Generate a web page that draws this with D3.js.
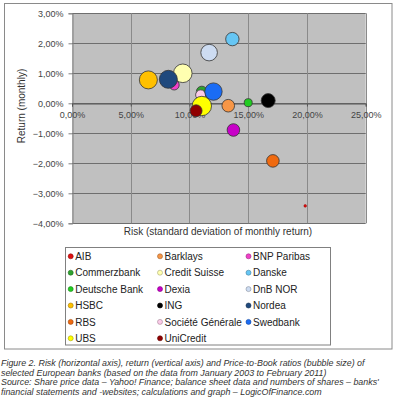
<!DOCTYPE html>
<html><head><meta charset="utf-8">
<script src="https://cdn.jsdelivr.net/npm/d3@7"></script>
<style>
html,body{margin:0;padding:0;background:#fff;}
svg{display:block;font-family:"Liberation Sans",Arial,sans-serif;}
</style></head>
<body>
<svg id="c" width="398" height="400"></svg>
<script>
// Banks (legend order)
const banks = ["AIB","Barklays","BNP Paribas","Commerzbank","Credit Suisse","Danske","Deutsche Bank","Dexia","DnB NOR","HSBC","ING","Nordea","RBS","Société Générale","Swedbank","UBS","UniCredit"];
// Risk (std dev of monthly return, %)
const risk   = [19.85, 13.3, 8.7, 11.05, 9.43, 13.65, 15.0, 13.74, 11.67, 6.5, 16.7, 8.2, 17.1, 10.95, 12.04, 11.05, 10.56];
// Return (monthly, %)
const ret    = [-3.42, -0.08, 0.61, 0.39, 1.0, 2.14, 0.02, -0.89, 1.69, 0.78, 0.09, 0.8, -1.92, 0.28, 0.39, -0.09, -0.25];
// Price-to-book ratio (bubble size)
const pb     = [0.04, 0.94, 0.59, 0.7, 2.05, 1.06, 0.38, 0.94, 1.63, 1.92, 1.16, 1.92, 0.94, 0.6, 1.79, 2.23, 0.85];
const colors = ["#e01010","#f79646","#f040c8","#2ea32e","#ffffb0","#66c6f4","#22cc22","#c800c8","#cddcf2","#ffc000","#000000","#1f497d","#f06a10","#fbcbe8","#1a6cf5","#ffff00","#900000"];
const xTicks = [0,5,10,15,20,25];
const yTicks = [3,2,1,0,-1,-2,-3,-4];
const fmt = v => d3.format(".2f")(v).replace(".", ",") + "%";
const caption = [
  "Figure 2. Risk (horizontal axis), return (vertical axis) and Price-to-Book ratios (bubble size) of",
  "selected European banks (based on the data from January 2003 to February 2011)",
  "Source: Share price data \u2013 Yahoo! Finance; balance sheet data and numbers of shares \u2013 banks'",
  "financial statements and -websites; calculations and graph \u2013 LogicOfFinance.com"
];

const svg = d3.select("#c");
// outer frame
svg.append("rect").attr("x",4.5).attr("y",3.5).attr("width",387.5).attr("height",345.5)
  .attr("fill","#fff").attr("stroke","#8a8a8a").attr("stroke-width",1);

const x = d3.scaleLinear().domain([0,25]).range([72,365.7]);
const y = d3.scaleLinear().domain([-4,3]).range([223.3,13.3]);
const r = d3.scaleSqrt().domain([0,1]).range([0,6.5]);

// plot background
svg.append("rect").attr("x",x(0)).attr("y",y(3)).attr("width",x(25)-x(0)).attr("height",y(-4)-y(3))
  .attr("fill","#c0c0c0");

// gridlines
svg.append("g").selectAll("line").data(yTicks).join("line")
  .attr("x1",x(0)).attr("x2",x(25)).attr("y1",d=>Math.round(y(d))+0.5).attr("y2",d=>Math.round(y(d))+0.5)
  .attr("stroke","#6e6e6e").attr("stroke-width",1);
svg.append("g").selectAll("line").data(xTicks.slice(1)).join("line")
  .attr("y1",y(3)).attr("y2",y(-4)).attr("x1",d=>Math.round(x(d))+0.5).attr("x2",d=>Math.round(x(d))+0.5)
  .attr("stroke","#8a8a8a").attr("stroke-width",1);

// y axis
const yAxis = d3.axisLeft(y).tickValues(yTicks).tickSize(4).tickFormat(fmt);
const gy = svg.append("g").attr("transform",`translate(${Math.round(x(0))+0.5},0)`).call(yAxis);
gy.select(".domain").attr("stroke","#808080");
gy.selectAll(".tick line").attr("stroke","#808080");
gy.selectAll("text").attr("font-size",9).attr("fill","#444").attr("font-family","Liberation Sans,Arial,sans-serif").attr("x",-9);

// x axis at y=0
const xAxis = d3.axisBottom(x).tickValues(xTicks).tickSize(3).tickFormat(fmt);
const gx = svg.append("g").attr("transform",`translate(0,${Math.round(y(0))+0.5})`).call(xAxis);
gx.select(".domain").attr("stroke","#555");
gx.selectAll(".tick line").attr("stroke","#555");
gx.selectAll("text").attr("font-size",9).attr("fill","#444").attr("font-family","Liberation Sans,Arial,sans-serif").attr("dy","0.95em").attr("y",6);

// axis titles
svg.append("text").attr("transform",`translate(25,106) rotate(-90)`)
  .attr("text-anchor","middle").attr("font-size",10).attr("fill","#333").text("Return (monthly)");
svg.append("text").attr("x",218).attr("y",234.5).attr("text-anchor","middle")
  .attr("font-size",10).attr("fill","#333").text("Risk (standard deviation of monthly return)");

// bubbles
const data = banks.map((b,i)=>({name:b,risk:risk[i],ret:ret[i],pb:pb[i],color:colors[i]}));
svg.append("g").selectAll("circle").data(data).join("circle")
  .attr("cx",d=>x(d.risk)).attr("cy",d=>y(d.ret)).attr("r",d=>r(d.pb))
  .attr("fill",d=>d.color).attr("stroke",d=>d.name==="AIB"?"#900":"#333").attr("stroke-width",d=>d.name==="AIB"?0.5:0.8);

// legend
svg.append("rect").attr("x",65.5).attr("y",247.5).attr("width",265).attr("height",97.5)
  .attr("fill","#fff").attr("stroke","#808080");
const colX = [70.7,160,248.5];
const rowY0 = 256.3, rowH = 16.4;
const lg = svg.append("g").selectAll("g").data(data).join("g")
  .attr("transform",(d,i)=>`translate(${colX[i%3]},${rowY0 + Math.floor(i/3)*rowH})`);
lg.append("circle").attr("r",2.5).attr("fill",d=>d.color).attr("stroke",d=>d.name==="ING"?"#000":d3.color(d.color).darker(1.2)).attr("stroke-width",0.6);
lg.append("text").attr("x",4.5).attr("dy","0.36em").attr("font-size",10).attr("fill","#222").text(d=>d.name);

// caption
svg.append("g").selectAll("text").data(caption).join("text")
  .attr("x",1).attr("y",(d,i)=>366.3+i*9.4).attr("font-size",8.9).attr("font-style","italic")
  .attr("fill","#333").text(d=>d);
</script>
</body></html>
